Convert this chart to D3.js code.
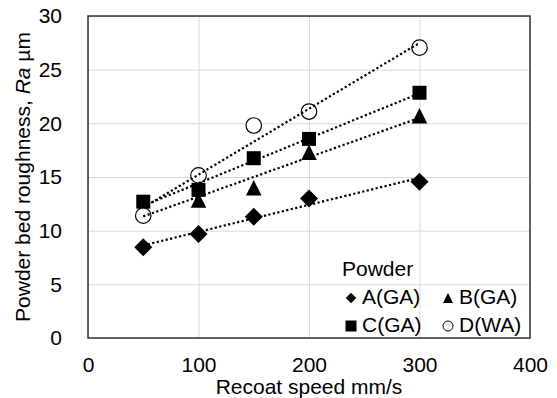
<!DOCTYPE html>
<html>
<head>
<meta charset="utf-8">
<script src="https://cdn.jsdelivr.net/npm/d3@7"></script>
<style>
    body { margin: 0; background: #fff; }
    text { font-family: "Liberation Sans", Arial, sans-serif; }
</style>
</head>
<body>
<div id="chart"></div>
<script>
// data
var speeds = [50, 100, 150, 200, 300];
var powderA = [8.45, 9.7, 11.3, 13.0, 14.55];
var powderB = [12.0, 12.85, 14.0, 17.3, 20.7];
var powderC = [12.7, 13.8, 16.75, 18.55, 22.85];
var powderD = [11.4, 15.15, 19.8, 21.1, 27.05];
var seriesNames = ["A(GA)", "B(GA)", "C(GA)", "D(WA)"];
var seriesShapes = ["diamond", "triangle", "square", "circle"];
var xTicks = [0, 100, 200, 300, 400];
var yTicks = [0, 5, 10, 15, 20, 25, 30];

function init() {
    var w = 557,
        h = 398;
    var left = 88, right = 530, top = 16, bottom = 338;

    var svg = d3
        .select("#chart")
        .append("svg")
        .attr("width", w)
        .attr("height", h);

    var xScale = d3.scaleLinear().domain([0, 400]).range([left, right]);
    var yScale = d3.scaleLinear().domain([0, 30]).range([bottom, top]);

    // gridlines
    svg.append("g")
        .attr("transform", "translate(0," + bottom + ")")
        .call(d3.axisBottom(xScale).tickValues(xTicks).tickSize(-(bottom - top)).tickFormat(""))
        .call(g => g.select(".domain").remove())
        .selectAll("line").attr("stroke", "#d9d9d9");
    svg.append("g")
        .attr("transform", "translate(" + left + ",0)")
        .call(d3.axisLeft(yScale).tickValues(yTicks).tickSize(-(right - left)).tickFormat(""))
        .call(g => g.select(".domain").remove())
        .selectAll("line").attr("stroke", "#d9d9d9");

    // axes labels
    svg.append("g")
        .attr("transform", "translate(0," + bottom + ")")
        .call(d3.axisBottom(xScale).tickValues(xTicks).tickSize(0).tickPadding(19))
        .call(g => g.select(".domain").remove())
        .selectAll("text")
        .attr("font-size", "21px")
        .attr("font-family", "Liberation Sans, Arial, sans-serif")
        .attr("fill", "#000");
    svg.append("g")
        .attr("transform", "translate(" + left + ",0)")
        .call(d3.axisLeft(yScale).tickValues(yTicks).tickSize(0).tickPadding(26))
        .call(g => g.select(".domain").remove())
        .selectAll("text")
        .attr("font-size", "21px")
        .attr("font-family", "Liberation Sans, Arial, sans-serif")
        .attr("fill", "#000");

    // plot border
    svg.append("rect")
        .attr("x", left)
        .attr("y", top)
        .attr("width", right - left)
        .attr("height", bottom - top)
        .attr("fill", "none")
        .attr("stroke", "#333")
        .attr("stroke-width", 1.5);

    // axis titles
    svg.append("text")
        .attr("x", (left + right) / 2)
        .attr("y", 394)
        .attr("text-anchor", "middle")
        .attr("font-size", "21px")
        .text("Recoat speed mm/s");

    var yTitle = svg.append("text")
        .attr("transform", "translate(30," + (top + bottom) / 2 + ") rotate(-90)")
        .attr("text-anchor", "middle")
        .attr("font-size", "21px");
    yTitle.append("tspan").text("Powder bed roughness, ");
    yTitle.append("tspan").attr("font-style", "italic").text("Ra");
    yTitle.append("tspan").text(" µm");

    // marker shapes, centred on 0,0
    function shapePath(shape, s) {
        if (shape == "diamond") {
            return "M0," + (-s / 2) + "L" + (s / 2) + ",0L0," + (s / 2) + "L" + (-s / 2) + ",0Z";
        } else if (shape == "triangle") {
            return "M0," + (-s / 2) + "L" + (s / 2) + "," + (s / 2) + "L" + (-s / 2) + "," + (s / 2) + "Z";
        } else if (shape == "square") {
            return "M" + (-s / 2) + "," + (-s / 2) + "h" + s + "v" + s + "h" + (-s) + "Z";
        }
        return d3.arc()({ innerRadius: 0, outerRadius: s / 2, startAngle: 0, endAngle: 2 * Math.PI });
    }
    var markerSize = { diamond: 18, triangle: 15.5, square: 14, circle: 15.5 };

    var allSeries = [powderA, powderB, powderC, powderD].map((vals, i) => ({
        name: seriesNames[i],
        shape: seriesShapes[i],
        points: speeds.map((s, j) => ({ x: s, y: vals[j] }))
    }));

    // markers
    allSeries.forEach(ser => {
        svg.append("g")
            .selectAll("path")
            .data(ser.points)
            .enter()
            .append("path")
            .attr("transform", d => "translate(" + xScale(d.x) + "," + yScale(d.y) + ")")
            .attr("d", shapePath(ser.shape, markerSize[ser.shape]))
            .attr("fill", ser.shape == "circle" ? "#fff" : "#000")
            .attr("stroke", "#000")
            .attr("stroke-width", ser.shape == "circle" ? 1.2 : 0);
    });

    // linear trendlines (least squares)
    var line = d3.line().x(d => xScale(d[0])).y(d => yScale(d[1]));
    allSeries.forEach(ser => {
        var mx = d3.mean(ser.points, d => d.x),
            my = d3.mean(ser.points, d => d.y);
        var sxy = d3.sum(ser.points, d => (d.x - mx) * (d.y - my)),
            sxx = d3.sum(ser.points, d => (d.x - mx) * (d.x - mx));
        var slope = sxy / sxx,
            icpt = my - slope * mx;
        var x0 = d3.min(speeds), x1 = d3.max(speeds);
        svg.append("path")
            .attr("d", line([[x0, icpt + slope * x0], [x1, icpt + slope * x1]]))
            .attr("fill", "none")
            .attr("stroke", "#000")
            .attr("stroke-width", 2.2)
            .attr("stroke-dasharray", "2.2,2.4");
    });

    // legend
    svg.append("text")
        .attr("x", 342)
        .attr("y", 276)
        .attr("font-size", "21px")
        .text("Powder");

    var legendPos = [[351, 298], [448, 298], [351, 326], [448, 326]];
    var legendSize = { diamond: 10.5, triangle: 10, square: 11, circle: 10 };
    allSeries.forEach((ser, i) => {
        var p = legendPos[i];
        svg.append("path")
            .attr("transform", "translate(" + p[0] + "," + p[1] + ")")
            .attr("d", shapePath(ser.shape, legendSize[ser.shape]))
            .attr("fill", ser.shape == "circle" ? "#fff" : "#000")
            .attr("stroke", "#000")
            .attr("stroke-width", ser.shape == "circle" ? 1 : 0);
        svg.append("text")
            .attr("x", p[0] + 11)
            .attr("y", p[1] + 5.5)
            .attr("dominant-baseline", "auto")
            .attr("font-size", "21px")
            .text(ser.name);
    });
}

window.onload = init;
</script>
</body>
</html>
